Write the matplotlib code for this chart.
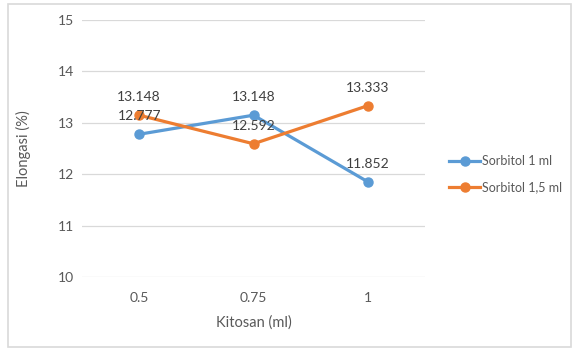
import matplotlib.pyplot as plt
from matplotlib.patches import Rectangle

# Data
kitosan = ["0.5", "0.75", "1"]
sorbitol_1 = [12.777, 13.148, 11.852]
sorbitol_15 = [13.148, 12.592, 13.333]
series_names = ["Sorbitol 1 ml", "Sorbitol 1,5 ml"]
y_ticks = [10, 11, 12, 13, 14, 15]

BLUE = "#5B9BD5"
ORANGE = "#ED7D31"
TEXT = "#595959"

plt.rcParams["font.family"] = ["Lato", "DejaVu Sans"]

fig = plt.figure(figsize=(5.76, 3.49), dpi=100)
ax = fig.add_axes([82 / 576, 1 - 277 / 349, (425 - 82) / 576, (277 - 20) / 349])

# outer chart border
fig.patches.append(Rectangle((8 / 576, 2 / 349), 563 / 576, 343 / 349,
                             transform=fig.transFigure, fill=False,
                             edgecolor="#d9d9d9", linewidth=1.2))

x = range(len(kitosan))
for vals, color, name in [(sorbitol_1, BLUE, series_names[0]),
                          (sorbitol_15, ORANGE, series_names[1])]:
    ax.plot(x, vals, color=color, linewidth=2.3, marker="o", markersize=6.5,
            label=name, zorder=3)
    for xi, v in zip(x, vals):
        ax.annotate(f"{v:.3f}", (xi, v), xytext=(0, 8.5), textcoords="offset points",
                    ha="center", va="bottom", fontsize=10, color="#404040", zorder=4)

ax.set_xlim(-0.5, 2.5)
ax.set_ylim(10, 15)
ax.set_yticks(y_ticks)
ax.set_xticks(list(x))
ax.set_xticklabels(kitosan)
ax.yaxis.grid(True, color="#d9d9d9", linewidth=0.9)
ax.set_axisbelow(True)
for s in ax.spines.values():
    s.set_visible(False)
ax.tick_params(length=0, labelsize=10, labelcolor=TEXT)
ax.tick_params(axis="x", pad=11)
ax.tick_params(axis="y", pad=6)

ax.set_xlabel("Kitosan (ml)", fontsize=10.5, color=TEXT, labelpad=8)
ax.set_ylabel("Elongasi (%)", fontsize=10.5, color=TEXT, labelpad=19)

ax.legend(loc="center left", bbox_to_anchor=(1.037, 0.40), frameon=False,
          fontsize=9, labelcolor=TEXT, handlelength=2.5, handletextpad=0.15,
          labelspacing=1.1)

fig.savefig("out.png", dpi=100)
